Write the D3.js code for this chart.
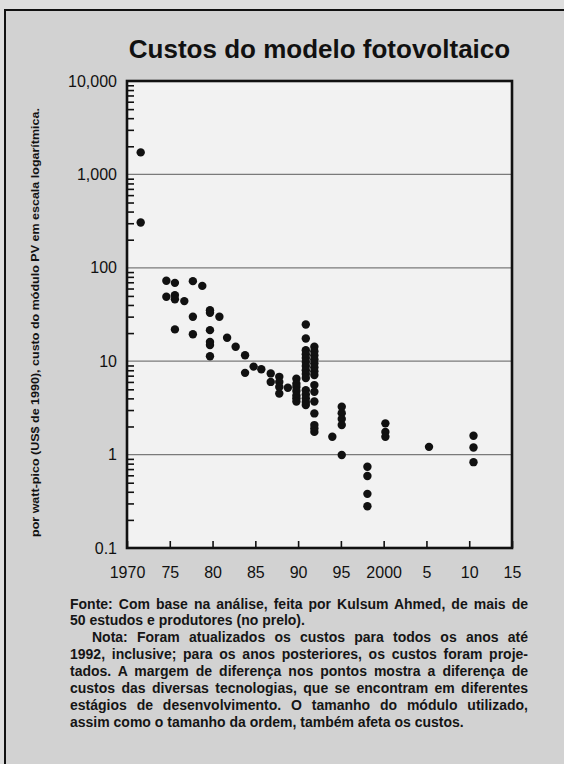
<!DOCTYPE html>
<html>
<head>
<meta charset="utf-8">
<script src="https://cdn.jsdelivr.net/npm/d3@7"></script>
<style>
    html, body { margin: 0; padding: 0; background: #dedede; }
    svg { display: block; }
    .axis text { font-family: "Liberation Sans", Arial, sans-serif; fill: #111; }
</style>
</head>
<body>
<div id="chart"></div>
<script>
// Chart content
var chartTitle = "Custos do modelo fotovoltaico";
var yAxisLabel = "por watt-pico (US$ de 1990), custo do módulo PV em escala logarítmica.";

var xTickValues = [1970, 1975, 1980, 1985, 1990, 1995, 2000, 2005, 2010, 2015];
var xTickLabels = ["1970", "75", "80", "85", "90", "95", "2000", "5", "10", "15"];
var yTickValues = [0.1, 1, 10, 100, 1000, 10000];
var yTickLabels = ["0.1", "1", "10", "100", "1,000", "10,000"];

// One entry per year column: the year and the costs
var pointYears = [
    1971.6, 1974.6, 1975.6, 1976.7, 1977.7, 1978.8, 1979.7, 1980.8, 1981.7, 1982.7,
    1983.8, 1984.8, 1985.7, 1986.8, 1987.8, 1988.8, 1989.8, 1990.9, 1991.9, 1994.0,
    1995.1, 1998.1, 2000.2, 2005.3, 2010.5
];
var pointCosts = [
    [1720, 306],
    [72.6, 49],
    [69, 51, 46, 21.9],
    [44],
    [72, 29.9, 19.4],
    [64],
    [35.2, 33, 21.5, 16.1, 14.9, 11.3],
    [29.9],
    [17.8],
    [14.3],
    [11.6, 7.5],
    [8.75],
    [8.2],
    [7.4, 6.0],
    [6.8, 6.0, 5.3, 4.5],
    [5.2],
    [6.5, 5.75, 5.3, 4.8, 4.3, 4.0, 3.7],
    [24.7, 17.5, 13.1, 11.9, 10.8, 9.8, 8.9, 8.0, 7.3, 6.6, 4.9, 4.4, 4.0, 3.65, 3.4],
    [14.3, 12.8, 11.6, 10.5, 9.5, 8.6, 7.8, 7.1, 5.55, 4.7, 3.7, 2.76, 2.07, 1.9, 1.75],
    [1.55],
    [3.25, 2.78, 2.4, 2.07, 0.99],
    [0.74, 0.59, 0.38, 0.28],
    [2.16, 1.75, 1.55],
    [1.21],
    [1.59, 1.19, 0.83]
];

var noteLines = [
    "Fonte: Com base na análise, feita por Kulsum Ahmed, de mais de",
    "50 estudos e produtores (no prelo).",
    "Nota: Foram atualizados os custos para todos os anos até",
    "1992, inclusive; para os anos posteriores, os custos foram proje-",
    "tados. A margem de diferença nos pontos mostra a diferença de",
    "custos das diversas tecnologias, que se encontram em diferentes",
    "estágios de desenvolvimento. O tamanho do módulo utilizado,",
    "assim como o tamanho da ordem, também afeta os custos."
];
var noteIndent = [0, 0, 1, 0, 0, 0, 0, 0];
var noteJustify = [1, 0, 1, 1, 1, 1, 1, 0];

// Layout
var width = 564, height = 764;
var plot = {left: 127, right: 512, top: 81, bottom: 548};
var fontFamily = "'Liberation Sans', Arial, sans-serif";

var svg = d3.select("#chart").append("svg")
    .attr("width", width)
    .attr("height", height);

// page background and the boxed panel
svg.append("rect").attr("x", 0).attr("y", 0).attr("width", width).attr("height", height).attr("fill", "#dedede");
svg.append("rect").attr("x", 5).attr("y", 10).attr("width", width - 5).attr("height", height - 10).attr("fill", "#d2d2d2");
svg.append("line").attr("x1", 5).attr("x2", width).attr("y1", 10).attr("y2", 10)
    .attr("stroke", "#111").attr("stroke-width", 2);
svg.append("line").attr("x1", 5).attr("x2", 5).attr("y1", 9).attr("y2", height)
    .attr("stroke", "#111").attr("stroke-width", 2);

svg.append("text")
    .attr("x", (plot.left + plot.right) / 2)
    .attr("y", 58)
    .attr("text-anchor", "middle")
    .attr("font-family", fontFamily)
    .attr("font-weight", "bold")
    .attr("font-size", 26)
    .attr("fill", "#111")
    .text(chartTitle);

var x = d3.scaleLinear().domain([1970, 2015]).range([plot.left, plot.right]);
var y = d3.scaleLog().domain([0.1, 10000]).range([plot.bottom, plot.top]);

svg.append("rect")
    .attr("x", plot.left).attr("y", plot.top)
    .attr("width", plot.right - plot.left).attr("height", plot.bottom - plot.top)
    .attr("fill", "#f2f2f2");

// decade gridlines
svg.append("g").attr("class", "grid")
    .selectAll("line")
    .data(yTickValues.slice(1, -1))
    .enter().append("line")
    .attr("x1", plot.left).attr("x2", plot.right)
    .attr("y1", function (d) { return y(d); })
    .attr("y2", function (d) { return y(d); })
    .attr("stroke", "#7a7a7a")
    .attr("stroke-width", 1.3);

// minor log ticks, pointing into the plot
var minorTicks = [];
yTickValues.slice(0, -1).forEach(function (decade) {
    for (var k = 2; k <= 9; k++) {
        minorTicks.push(decade * k);
    }
});
var yMinor = d3.axisRight(y).tickValues(minorTicks).tickSize(7).tickFormat("");
svg.append("g")
    .attr("class", "axis y-minor")
    .attr("transform", "translate(" + plot.left + ",0)")
    .call(yMinor)
    .call(function (g) { g.select(".domain").remove(); })
    .selectAll("line").attr("stroke", "#111").attr("stroke-width", 1.6);

var yAxis = d3.axisLeft(y)
    .tickValues(yTickValues)
    .tickSize(0)
    .tickPadding(10)
    .tickFormat(function (d, i) { return yTickLabels[i]; });
svg.append("g")
    .attr("class", "axis y-axis")
    .attr("transform", "translate(" + plot.left + ",0)")
    .call(yAxis)
    .call(function (g) { g.select(".domain").remove(); })
    .selectAll("text").attr("font-size", 16);

var xAxis = d3.axisBottom(x)
    .tickValues(xTickValues)
    .tickSizeInner(-7)
    .tickSizeOuter(0)
    .tickPadding(19)
    .tickFormat(function (d, i) { return xTickLabels[i]; });
var xg = svg.append("g")
    .attr("class", "axis x-axis")
    .attr("transform", "translate(0," + plot.bottom + ")")
    .call(xAxis)
    .call(function (g) { g.select(".domain").remove(); });
xg.selectAll("line").attr("stroke", "#111").attr("stroke-width", 1.6);
xg.selectAll("text").attr("font-size", 16);

// plot frame
svg.append("rect")
    .attr("x", plot.left).attr("y", plot.top)
    .attr("width", plot.right - plot.left).attr("height", plot.bottom - plot.top)
    .attr("fill", "none")
    .attr("stroke", "#111")
    .attr("stroke-width", 2.6);

// scatter
var points = [];
pointYears.forEach(function (year, i) {
    pointCosts[i].forEach(function (cost) {
        points.push({year: year, cost: cost});
    });
});
svg.append("g").attr("class", "points")
    .selectAll("circle")
    .data(points)
    .enter().append("circle")
    .attr("cx", function (d) { return x(d.year); })
    .attr("cy", function (d) { return y(d.cost); })
    .attr("r", 4.2)
    .attr("fill", "#111");

svg.append("text")
    .attr("transform", "translate(39,537) rotate(-90)")
    .attr("font-family", fontFamily)
    .attr("font-weight", "bold")
    .attr("font-size", 10.5)
    .attr("fill", "#111")
    .attr("textLength", 429)
    .attr("lengthAdjust", "spacingAndGlyphs")
    .text(yAxisLabel);

// notes under the chart, justified by adjusting the word gaps
var noteLeft = 70, noteRight = 528, noteIndentPx = 22;
var notes = svg.append("g").attr("class", "notes");
noteLines.forEach(function (line, i) {
    var x0 = noteLeft + (noteIndent[i] ? noteIndentPx : 0);
    var t = notes.append("text")
        .attr("x", x0)
        .attr("y", 608.5 + i * 16.9)
        .attr("font-family", fontFamily)
        .attr("font-weight", "bold")
        .attr("font-size", 14)
        .attr("fill", "#151515")
        .text(line);
    if (noteJustify[i]) {
        var gaps = line.split(" ").length - 1;
        var extra = (noteRight - x0) - t.node().getComputedTextLength();
        if (gaps > 0) {
            t.style("word-spacing", (extra / gaps) + "px");
        }
    }
});
</script>
</body>
</html>
